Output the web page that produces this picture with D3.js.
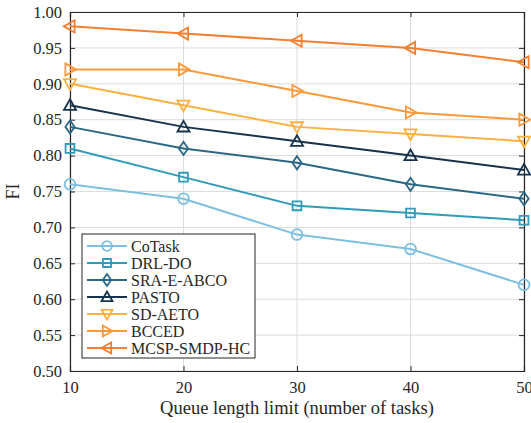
<!DOCTYPE html>
<html>
<head>
<meta charset="utf-8">
<script src="https://cdn.jsdelivr.net/npm/d3@7/dist/d3.min.js"></script>
<style>
  body { margin: 0; background: #fff; }
  text { font-family: "Liberation Serif", "Times New Roman", serif; }
</style>
</head>
<body>
<div id="chart"></div>
<script>
const queueLimits = [10, 20, 30, 40, 50];
const yTicks = [0.50, 0.55, 0.60, 0.65, 0.70, 0.75, 0.80, 0.85, 0.90, 0.95, 1.00];

const seriesNames = ['CoTask', 'DRL-DO', 'SRA-E-ABCO', 'PASTO', 'SD-AETO', 'BCCED', 'MCSP-SMDP-HC'];
const coTask = [0.76, 0.74, 0.69, 0.67, 0.62];
const drlDo = [0.81, 0.77, 0.73, 0.72, 0.71];
const sraEAbco = [0.84, 0.81, 0.79, 0.76, 0.74];
const pasto = [0.87, 0.84, 0.82, 0.80, 0.78];
const sdAeto = [0.90, 0.87, 0.84, 0.83, 0.82];
const bcced = [0.92, 0.92, 0.89, 0.86, 0.85];
const mcsp = [0.98, 0.97, 0.96, 0.95, 0.93];

const seriesValues = [coTask, drlDo, sraEAbco, pasto, sdAeto, bcced, mcsp];
const seriesColors = ['#7dbfe0', '#2f9bb8', '#2a6886', '#17324c', '#fbb040', '#f9993a', '#f47f30'];
const seriesMarkers = ['circle', 'square', 'diamond', 'triUp', 'triDown', 'triRight', 'triLeft'];

const W = 531, H = 423;
const margin = { top: 12, right: 7, bottom: 52, left: 70 };
const width = W - margin.left - margin.right;
const height = H - margin.top - margin.bottom;

const svg = d3.select('#chart').append('svg')
  .attr('width', W)
  .attr('height', H);

const g = svg.append('g').attr('transform', `translate(${margin.left},${margin.top})`);

const x = d3.scaleLinear().domain([10, 50]).range([0, width]);
const y = d3.scaleLinear().domain([0.5, 1.0]).range([height, 0]);

// grid
g.append('g')
  .selectAll('line.gy')
  .data(yTicks)
  .enter().append('line')
  .attr('x1', 0).attr('x2', width)
  .attr('y1', (d) => y(d)).attr('y2', (d) => y(d))
  .attr('stroke', '#dcdcdc').attr('stroke-width', 1);

g.append('g')
  .selectAll('line.gx')
  .data(queueLimits)
  .enter().append('line')
  .attr('x1', (d) => x(d)).attr('x2', (d) => x(d))
  .attr('y1', 0).attr('y2', height)
  .attr('stroke', '#dcdcdc').attr('stroke-width', 1);

// axes, ticks inward
const tickLen = 5;
const xAxis = g.append('g').attr('transform', `translate(0,${height})`)
  .call(d3.axisBottom(x).tickValues(queueLimits).tickSize(-tickLen).tickPadding(10).tickFormat(d3.format('d')));
const xAxisTop = g.append('g')
  .call(d3.axisTop(x).tickValues(queueLimits).tickSize(-tickLen).tickFormat(''));
const yAxis = g.append('g')
  .call(d3.axisLeft(y).tickValues(yTicks).tickSize(-tickLen).tickPadding(8).tickFormat(d3.format('.2f')));
const yAxisRight = g.append('g').attr('transform', `translate(${width},0)`)
  .call(d3.axisRight(y).tickValues(yTicks).tickSize(-tickLen).tickFormat(''));

[xAxis, xAxisTop, yAxis, yAxisRight].forEach((a) => {
  a.select('.domain').attr('stroke', '#262626').attr('stroke-width', 1.2);
  a.selectAll('.tick line').attr('stroke', '#262626');
  a.selectAll('.tick text').attr('font-size', 16.5).attr('fill', '#262626')
    .style('font-family', '"Liberation Serif", serif');
});

// marker shapes
function markerPath(type, s) {
  switch (type) {
    case 'circle': return d3.symbol().type(d3.symbolCircle).size(s * s * 0.75)();
    case 'square': return `M${-s * 0.4},${-s * 0.4}h${s * 0.8}v${s * 0.8}h${-s * 0.8}Z`;
    case 'diamond': return `M0,${-s * 0.6}L${s * 0.42},0L0,${s * 0.6}L${-s * 0.42},0Z`;
    case 'triUp': return `M0,${-s * 0.55}L${s * 0.55},${s * 0.42}L${-s * 0.55},${s * 0.42}Z`;
    case 'triDown': return `M0,${s * 0.55}L${s * 0.55},${-s * 0.42}L${-s * 0.55},${-s * 0.42}Z`;
    case 'triRight': return `M${s * 0.55},0L${-s * 0.42},${s * 0.55}L${-s * 0.42},${-s * 0.55}Z`;
    case 'triLeft': return `M${-s * 0.55},0L${s * 0.42},${s * 0.55}L${s * 0.42},${-s * 0.55}Z`;
    default: return '';
  }
}
const mSize = 11;

const line = d3.line().x((d, i) => x(queueLimits[i])).y((d) => y(d));

seriesValues.forEach((vals, k) => {
  const sg = g.append('g');
  sg.append('path')
    .datum(vals)
    .attr('d', line)
    .attr('fill', 'none')
    .attr('stroke', seriesColors[k])
    .attr('stroke-width', 2);
  sg.selectAll('path.m')
    .data(vals)
    .enter().append('path')
    .attr('class', 'm')
    .attr('transform', (d, i) => `translate(${x(queueLimits[i])},${y(d)})`)
    .attr('d', markerPath(seriesMarkers[k], mSize))
    .attr('fill', 'none')
    .attr('stroke', seriesColors[k])
    .attr('stroke-width', 1.8);
});

// axis labels
svg.append('text')
  .attr('x', margin.left + width / 2)
  .attr('y', 414)
  .attr('text-anchor', 'middle')
  .attr('font-size', 18.5)
  .attr('fill', '#262626')
  .text('Queue length limit (number of tasks)');

svg.append('text')
  .attr('transform', `translate(19,${margin.top + height / 2}) rotate(-90)`)
  .attr('text-anchor', 'middle')
  .attr('font-size', 18)
  .attr('fill', '#262626')
  .text('FI');

// legend
const legend = svg.append('g').attr('transform', 'translate(82,234)');
legend.append('rect')
  .attr('width', 173).attr('height', 124)
  .attr('fill', '#fff').attr('stroke', '#262626').attr('stroke-width', 1);

seriesNames.forEach((name, k) => {
  const ly = 12 + k * 17;
  const lg = legend.append('g').attr('transform', `translate(0,${ly})`);
  lg.append('line')
    .attr('x1', 5).attr('x2', 45).attr('y1', 0).attr('y2', 0)
    .attr('stroke', seriesColors[k]).attr('stroke-width', 2);
  lg.append('path')
    .attr('transform', 'translate(25,0)')
    .attr('d', markerPath(seriesMarkers[k], 10))
    .attr('fill', 'none')
    .attr('stroke', seriesColors[k])
    .attr('stroke-width', 1.8);
  lg.append('text')
    .attr('x', 49).attr('y', 5.5)
    .attr('font-size', 16)
    .attr('fill', '#262626')
    .text(name);
});
</script>
</body>
</html>
